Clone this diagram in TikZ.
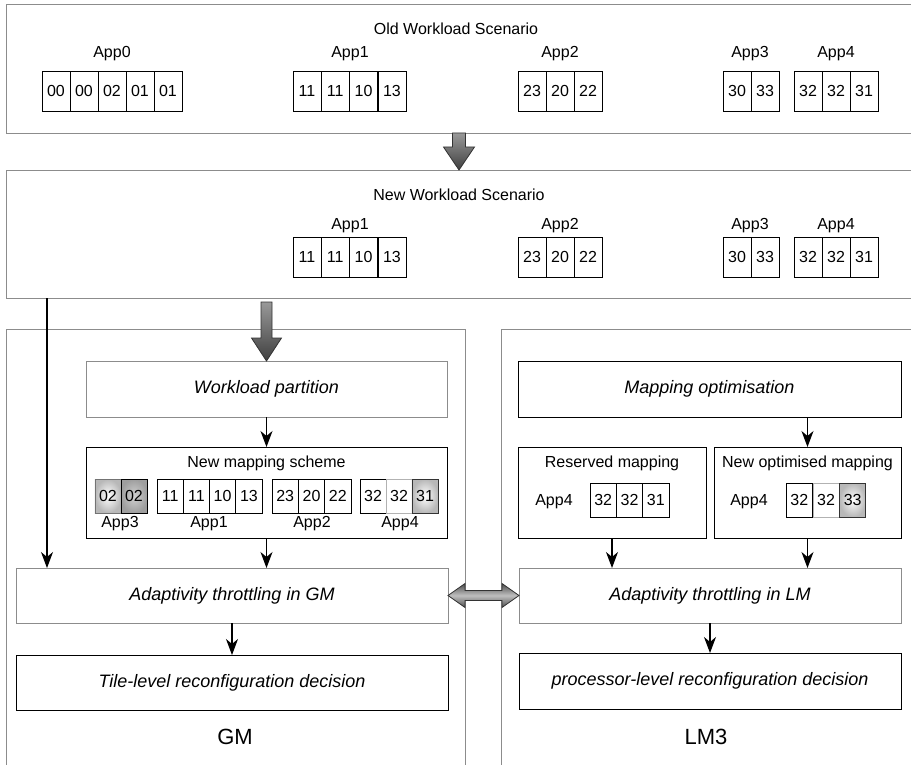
\documentclass[tikz,border=0pt]{standalone}
\usepackage{fontspec}
\setmainfont{Liberation Sans}
\usetikzlibrary{arrows.meta}
\newcommand\fsA{\fontsize{16}{19}\selectfont}
\newcommand\fsB{\fontsize{18}{21}\selectfont\itshape}
\newcommand\fsC{\fontsize{22}{26}\selectfont}
\colorlet{panelgray}{black!45}
\begin{document}
\begin{tikzpicture}[x=1pt,y=-1pt,
  every node/.style={inner sep=0pt, outer sep=0pt},
  lbl/.style={font=\fsA},
  panel/.style={draw=panelgray, line width=0.9pt},
  softbox/.style={draw=panelgray, line width=0.9pt, font=\fsB},
  hardbox/.style={draw=black, line width=0.9pt, font=\fsB},
  mapbox/.style={draw=black, line width=0.9pt},
  bigcell/.style={draw=black, line width=0.8pt, minimum width=28pt, minimum height=40pt, font=\fsA},
  mcell/.style={draw=black, line width=0.8pt, minimum width=26.2pt, minimum height=34pt, font=\fsA},
  shadecell/.style={mcell, inner color=white, outer color=black!28},
  darkcell/.style={mcell, inner color=black!18, outer color=black!38},
  arr/.style={line width=1.1pt, -{Stealth[length=16pt, width=12pt, inset=5pt]}},
  bigarr/.style={draw=black!80, line width=0.8pt, top color=black!40, bottom color=black!75},
  dblarr/.style={draw=black!80, line width=0.8pt, top color=black!70, bottom color=black!70, middle color=black!25}
]
\useasboundingbox (0,0) rectangle (911,765);

% ---------- outer panels ----------
\node[panel, minimum width=906pt, minimum height=129pt] (old) at (459,68.5) {};
\node[panel, minimum width=906pt, minimum height=128pt] (new) at (459,234) {};
\node[panel, minimum width=459pt, minimum height=446pt] (gm) at (235.5,552) {};
\node[panel, minimum width=414pt, minimum height=446pt] (lm) at (708,552) {};

% ---------- old workload ----------
\node[lbl] (oldtitle) at (456,29) {Old Workload Scenario};
\node[lbl] (oa0) at (112,54) {App0};
\node[bigcell] (o00) at (56,91) {00};
\node[bigcell] (o01) at (84,91) {00};
\node[bigcell] (o02) at (112,91) {02};
\node[bigcell] (o03) at (140,91) {01};
\node[bigcell] (o04) at (168,91) {01};
\node[lbl] (oa1) at (350,54) {App1};
\node[bigcell] (o10) at (307,91) {11};
\node[bigcell] (o11) at (335.3,91) {11};
\node[bigcell] (o12) at (363.6,91) {10};
\node[bigcell] (o13) at (391.9,91) {13};
\node[lbl] (oa2) at (560,54) {App2};
\node[bigcell] (o20) at (532,91) {23};
\node[bigcell] (o21) at (560,91) {20};
\node[bigcell] (o22) at (588,91) {22};
\node[lbl] (oa3) at (750,54) {App3};
\node[bigcell] (o30) at (737,91) {30};
\node[bigcell] (o31) at (765,91) {33};
\node[lbl] (oa4) at (836,54) {App4};
\node[bigcell] (o40) at (808,91) {32};
\node[bigcell] (o41) at (836,91) {32};
\node[bigcell] (o42) at (864,91) {31};

% ---------- new workload ----------
\node[lbl] (newtitle) at (459,195) {New Workload Scenario};
\node[lbl] (na1) at (350,226) {App1};
\node[bigcell] (n10) at (307,257) {11};
\node[bigcell] (n11) at (335.3,257) {11};
\node[bigcell] (n12) at (363.6,257) {10};
\node[bigcell] (n13) at (391.9,257) {13};
\node[lbl] (na2) at (560,226) {App2};
\node[bigcell] (n20) at (532,257) {23};
\node[bigcell] (n21) at (560,257) {20};
\node[bigcell] (n22) at (588,257) {22};
\node[lbl] (na3) at (750,226) {App3};
\node[bigcell] (n30) at (737,257) {30};
\node[bigcell] (n31) at (765,257) {33};
\node[lbl] (na4) at (836,226) {App4};
\node[bigcell] (n40) at (808,257) {32};
\node[bigcell] (n41) at (836,257) {32};
\node[bigcell] (n42) at (864,257) {31};

% ---------- GM side ----------
\node[softbox, minimum width=361pt, minimum height=56pt] (wp) at (266.5,389) {Workload partition};
\node[mapbox, minimum width=361pt, minimum height=91pt] (nms) at (266.5,492.5) {};
\node[lbl] (nmstitle) at (266.5,463) {New mapping scheme};
\node[shadecell, draw=black!55] (m30) at (108,496) {02};
\node[darkcell] (m31) at (134,496) {02};
\node[lbl] (ma3) at (120,524) {App3};
\node[mcell] (m10) at (170.1,496) {11};
\node[mcell] (m11) at (196.4,496) {11};
\node[mcell] (m12) at (222.6,496) {10};
\node[mcell] (m13) at (248.9,496) {13};
\node[lbl] (ma1) at (209,524) {App1};
\node[mcell] (m20) at (285.2,496) {23};
\node[mcell] (m21) at (311.5,496) {20};
\node[mcell] (m22) at (337.8,496) {22};
\node[lbl] (ma2) at (312,524) {App2};
\node[mcell] (m40) at (373,496) {32};
\node[mcell, draw=black!30] (m41) at (399,496) {32};
\node[shadecell, draw=black!80] (m42) at (425,496) {31};
\node[lbl] (ma4) at (400,524) {App4};
\node[softbox, minimum width=432pt, minimum height=55pt] (adgm) at (232,595.5) {Adaptivity throttling in GM};
\node[hardbox, minimum width=432pt, minimum height=55pt] (tile) at (232,682.5) {Tile-level reconfiguration decision};
\node[font=\fsC] (gmlbl) at (235,737) {GM};

% ---------- LM3 side ----------
\node[hardbox, minimum width=383pt, minimum height=56pt] (mo) at (709.5,389) {Mapping optimisation};
\node[mapbox, minimum width=188pt, minimum height=91pt] (res) at (612,492.5) {};
\node[lbl] (restitle) at (612,463) {Reserved mapping};
\node[lbl] (resapp) at (554,502) {App4};
\node[mcell] (r0) at (603.2,500) {32};
\node[mcell] (r1) at (629.5,500) {32};
\node[mcell] (r2) at (655.8,500) {31};
\node[mapbox, minimum width=187pt, minimum height=91pt] (nopt) at (807.5,492.5) {};
\node[lbl] (nopttitle) at (807.5,463) {New optimised mapping};
\node[lbl] (noptapp) at (749,502) {App4};
\node[mcell] (p0) at (799.3,500) {32};
\node[mcell, draw=black!30] (p1) at (826,500) {32};
\node[shadecell, draw=black!80] (p2) at (852.7,500) {33};
\node[softbox, minimum width=382pt, minimum height=55pt] (adlm) at (710,595.5) {Adaptivity throttling in LM};
\node[hardbox, minimum width=382pt, minimum height=56pt] (proc) at (710,681) {processor-level reconfiguration decision};
\node[font=\fsC] (lmlbl) at (706,737) {LM3};

% ---------- thin connectors ----------
\draw[arr] (wp.south) -- (nms.north);
\draw[arr] (nms.south) -- (nms.south |- adgm.north);
\draw[arr] (adgm.south) -- (adgm.south |- tile.north);
\draw[arr] ([xshift=41pt]new.south west) -- ([xshift=41pt]new.south west |- adgm.north);
\draw[arr] (mo.south -| nopt.north) -- (nopt.north);
\draw[arr] (res.south) -- (res.south |- adlm.north);
\draw[arr] (nopt.south) -- (nopt.south |- adlm.north);
\draw[arr] (adlm.south) -- (proc.north);

% ---------- big grey arrows ----------
\coordinate (a2top) at (new.south -| wp.north);
\draw[bigarr] ([xshift=-6.5pt]old.south) -- ++(0,14) -- ++(-9,0) -- (new.north)
  -- ([xshift=15.5pt,yshift=-14pt]old.south) -- ++(-9,0) -- ([xshift=6.5pt]old.south) -- cycle;
\draw[bigarr] ([xshift=-5.5pt,yshift=-4pt]a2top) -- ++(0,36) -- ++(-9.5,0) -- (wp.north)
  -- ([xshift=15pt,yshift=-40pt]a2top) -- ++(-9.5,0) -- ([xshift=5.5pt,yshift=-4pt]a2top) -- cycle;
\draw[dblarr] (adgm.east) -- ++(17,-12) -- ++(0,7) -- ([xshift=-17pt,yshift=5pt]adlm.west)
  -- ++(0,-7) -- (adlm.west) -- ++(-17,12) -- ++(0,-7) -- ([xshift=17pt,yshift=-5pt]adgm.east)
  -- ++(0,7) -- cycle;
\end{tikzpicture}
\end{document}
